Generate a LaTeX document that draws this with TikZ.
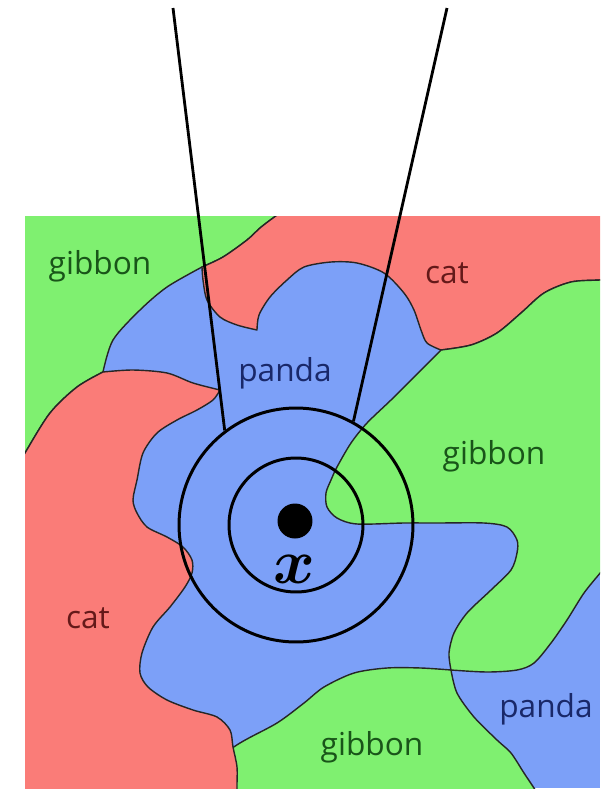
\documentclass[tikz,border=0pt]{standalone}
\usepackage{fontspec}
\setmainfont{Open Sans}
\usepackage{amsmath}
\usepackage{bm}
\usepackage{tikz}
\usetikzlibrary{positioning}
\definecolor{gibbongreen}{RGB}{127,240,112}
\definecolor{catred}{RGB}{250,124,120}
\definecolor{pandablue}{RGB}{124,160,248}
\definecolor{gibbontext}{RGB}{25,85,25}
\definecolor{cattext}{RGB}{100,25,25}
\definecolor{pandatext}{RGB}{25,40,105}
\tikzset{
    % Region fills for the class map
    gibbonregion/.style={fill=gibbongreen, draw=black!85, line width=0.8pt, line join=round},
    catregion/.style={fill=catred, draw=black!85, line width=0.8pt, line join=round},
    % Class labels
    classlabel/.style={font=\fontsize{18}{20}\selectfont, inner sep=0pt, text=#1},
    % Neighbourhood rings around the point
    ringnode/.style={circle, draw=black, line width=1.7pt, inner sep=0pt},
    pointnode/.style={circle, fill=black, inner sep=0pt, minimum size=0.7cm},
    zoomline/.style={line width=1.6pt, draw=black},
}
\begin{document}
\begin{tikzpicture}[x=0.02cm, y=-0.02cm]
\useasboundingbox (0,0) rectangle (608,789);

% ============================================================
% Class map
% ============================================================
\begin{scope}
\clip (25,216) rectangle (600,788);
\fill[pandablue] (25,216) rectangle (600,788);

% gibbon, bottom (drawn first, cat covers its left end)
\draw[gibbonregion] plot[smooth] coordinates {(200,770) (240,743) (277,723) (304,703) (324,687) (354,673) (387,668) (421,668) (451,670)}
  -- plot[smooth] coordinates {(451,670) (457,693) (474,717) (497,740) (511,753) (524,773) (534,788) (545,805)}
  -- (545,810) -- (200,810) -- cycle;

% gibbon, top left
\draw[gibbonregion] (0,190) -- (290,190) -- (290,206)
  -- plot[smooth] coordinates {(290,206) (273,218) (260,228) (247,240) (223,257) (202,267)}
  -- plot[smooth] coordinates {(202,267) (167,287) (140,310) (113,340) (103,372)}
  -- plot[smooth] coordinates {(103,372) (77,387) (50,413) (25,453) (10,480)}
  -- (0,480) -- cycle;

% cat, top
\draw[catregion] (290,190) -- (620,190) -- (620,279)
  -- plot[smooth] coordinates {(620,279) (600,280) (571,282) (544,293) (521,313) (497,333) (471,345) (441,350)}
  -- plot[smooth] coordinates {(441,350) (427,343) (421,330) (414,310) (404,293) (384,273) (357,263) (331,262) (304,267) (287,280) (270,297) (259,315) (257,330)}
  -- plot[smooth] coordinates {(257,330) (237,325) (220,317) (207,300) (203,280) (202,267)}
  -- plot[smooth] coordinates {(202,267) (223,257) (247,240) (260,228) (273,218) (290,206)}
  -- cycle;

% cat, left
\draw[catregion] (0,480) -- (10,480)
  -- plot[smooth] coordinates {(10,480) (25,453) (50,413) (77,387) (103,372)}
  -- plot[smooth] coordinates {(103,372) (133,370) (167,373) (193,383) (220,390)}
  -- plot[smooth] coordinates {(220,390) (213,400) (197,410) (177,420) (157,433) (143,453) (137,480) (133,500) (137,513) (147,527) (167,537) (183,547) (192,560) (192,573) (185,587) (170,607) (153,627) (142,653) (140,673) (148,687) (167,700) (193,710) (217,717) (230,730) (233,747) (237,767) (237,788) (238,805)}
  -- (238,810) -- (0,810) -- cycle;

% gibbon, right
\draw[gibbonregion] plot[smooth] coordinates {(441,350) (414,377) (391,400) (367,423) (351,443) (337,467) (331,480) (326,493) (327,507) (337,518) (357,524) (404,523) (437,523) (484,523) (507,527) (517,540) (517,553) (511,570) (491,590) (467,613) (454,633) (449,653) (451,670)}
  -- plot[smooth] coordinates {(451,670) (487,672) (517,670) (534,663) (551,643) (567,620) (584,593) (601,572) (615,555)}
  -- (620,555) -- (620,279)
  -- plot[smooth] coordinates {(620,279) (600,280) (571,282) (544,293) (521,313) (497,333) (471,345) (441,350)}
  -- cycle;
\end{scope}

% ============================================================
% Labels
% ============================================================
\node[classlabel=gibbontext] (gibbon1) at (100,266) {gibbon};
\node[classlabel=cattext] (cat1) at (447,273) {cat};
\node[classlabel=pandatext] (panda1) at (285,373) {panda};
\node[classlabel=gibbontext] (gibbon2) at (494,456) {gibbon};
\node[classlabel=cattext] (cat2) at (88,618) {cat};
\node[classlabel=pandatext] (panda2) at (546,709) {panda};
\node[classlabel=gibbontext] (gibbon3) at (372,747) {gibbon};

% ============================================================
% Point and its neighbourhoods
% ============================================================
\node[ringnode, minimum size=4.68cm] (outer) at (296,525) {};
\node[ringnode, minimum size=2.68cm] (inner) at (296,525) {};
\node[pointnode] (xdot) at (295,521) {};
\node[inner sep=0pt] (xlabel) at (294,569) {\scalebox{1.45}{\fontsize{24.88}{26}\selectfont$\bm{x}$}};

% zoom lines
\coordinate (leftend) at (173,8);
\coordinate (rightend) at (447,8);
\draw[zoomline] (leftend) -- (outer.127);
\draw[zoomline] (rightend) -- (outer.61);

\end{tikzpicture}
\end{document}
